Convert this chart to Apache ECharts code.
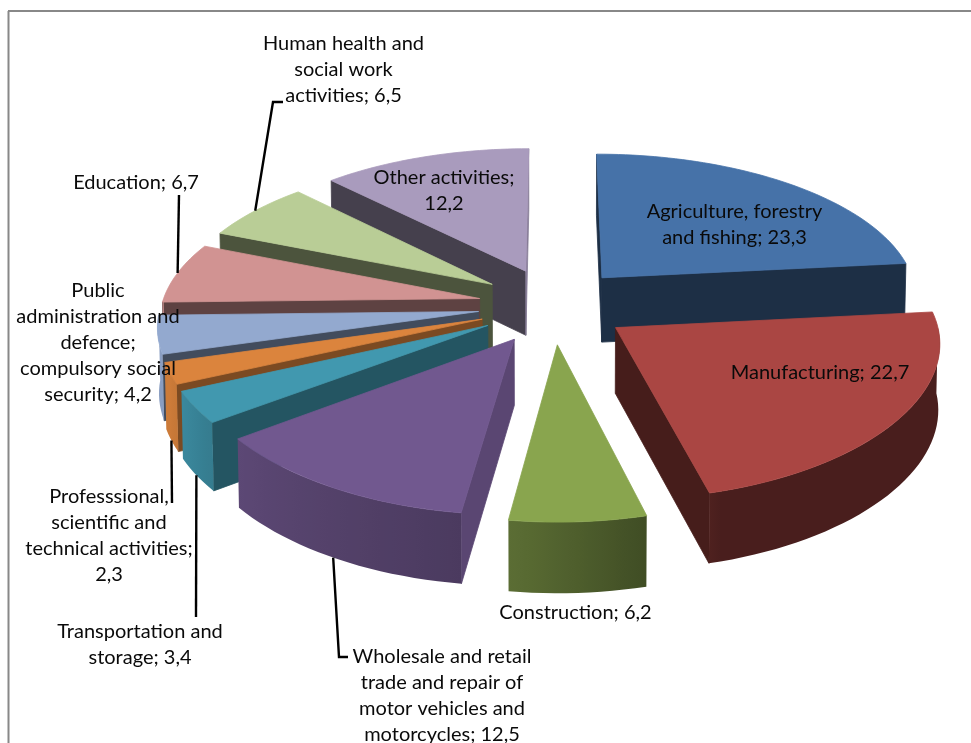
<!DOCTYPE html>
<html><head><meta charset="utf-8">
<script src="https://cdn.jsdelivr.net/npm/echarts@6/dist/echarts.min.js"></script>
<style>html,body{margin:0;padding:0;background:#fff}#c{width:971px;height:743px}</style>
</head><body><div id="c"></div>
<script>
// ---- data ----
const categories = [
  'Agriculture, forestry\nand fishing','Manufacturing','Construction',
  'Wholesale and retail\ntrade and repair of\nmotor vehicles and\nmotorcycles',
  'Transportation and\nstorage','Professsional,\nscientific and\ntechnical activities',
  'Public\nadministration and\ndefence;\ncompulsory social\nsecurity','Education',
  'Human health and\nsocial work\nactivities','Other activities'
];
const values = [23.3,22.7,6.2,12.5,3.4,2.3,4.2,6.7,6.5,12.2];
const valueSeparators = ['; ','; ','; ','; ','; ',';\n','; ','; ','; ',';\n'];
const topColors = ['#4672A8','#AA4643','#89A54E','#71588F','#4198AF','#DB843D','#93A9CF','#D19392','#B9CD96','#A99BBD'];

// ---- layout (not data) ----
const CX=553, CY=305.5, RX=318, RY=143, EXPLODE_X=0.236, EXPLODE_Y=0.266, DEPTH=65;
const labelAt = [[734.5,225],[820,373],[575.5,613],[442,696],[140,645],[109,536],[98,343],[136,183],[343.5,70],[444,191]];
// leader: rim = which rim edge it leaves from, then elbow points towards the label
const leaders = {
  3:{bottom:true, path:[[339,657],[348,657]]},
  4:{bottom:true, path:[[196,617]]},
  5:{bottom:true, path:[[172,503]]},
  7:{bottom:false,path:[[179,195]]},
  8:{bottom:false,path:[[273,102],[283,102]]}
};

const total = values.reduce((a,b)=>a+b,0);
const rad = d => d*Math.PI/180;
const slices = []; let acc=0;
values.forEach((v,i)=>{ const a0=acc/total*360; acc+=v; const a1=acc/total*360;
  slices.push({i,a0,a1,mid:(a0+a1)/2}); });

function project(X,Y,low){
  const sy=1/(1+(Y>0?0.11:0.13)*Y);
  const sx=1/(1+(Y>0?0.125:0.09)*Y);
  const bx=low?0.996:1;
  return [CX+RX*X*sx*bx, CY-RY*Y*sy+(low?DEPTH*Math.pow(sy,0.5):0)];
}
function point(sl,ang,r,low){
  const ex=EXPLODE_X*Math.sin(rad(sl.mid)), ey=EXPLODE_Y*Math.cos(rad(sl.mid));
  return project(ex+r*Math.sin(rad(ang)), ey+r*Math.cos(rad(ang)), low);
}
function shade(hex,f){
  const n=parseInt(hex.slice(1),16);
  const c=[n>>16,(n>>8)&255,n&255].map(x=>Math.round(x*f));
  return 'rgb('+c.join(',')+')';
}
function rimShade(a){
  if(a<165) return 0.43;
  if(a<187) return 0.46+(a-165)/22*0.2;
  if(a<234) return 0.66+(a-187)/47*0.16;
  if(a<250) return 0.82+(a-234)/16*0.11;
  return 0.93;
}
function poly(points,fill,stroke){
  return {type:'polygon',shape:{points},style:{fill,stroke:stroke||fill,lineWidth:0.8}};
}
function renderSlice(params,api){
  const sl=slices[api.value(1)], col=topColors[sl.i], kids=[];
  // radial walls facing the viewer
  [[sl.a0,sl.a0-90],[sl.a1,sl.a1+90]].forEach(([a,normal])=>{
    if(Math.cos(rad(normal))>0.02) return;
    const n=((normal%360)+360)%360;
    const f=(n>60&&n<120)?0.8:(a>225&&a<250?0.56:(a>=250&&a<270?0.45:0.41));
    kids.push(poly([point(sl,a,0,false),point(sl,a,1,false),point(sl,a,1,true),point(sl,a,0,true)],shade(col,f)));
  });
  // outer wall, shaded across its width
  const from=Math.max(sl.a0,90), to=Math.min(sl.a1,270);
  if(to>from){
    const n=Math.max(2,Math.ceil((to-from)/2)), up=[], dn=[], angs=[];
    for(let k=0;k<=n;k++){
      const a=from+(to-from)*k/n; angs.push(a);
      up.push(point(sl,a,1,false)); dn.push(point(sl,a,1,true));
    }
    const xs=dn.map(p=>p[0]), x0=Math.min(...xs), x1=Math.max(...xs);
    const stops=angs.map((a,k)=>({offset:Math.min(1,Math.max(0,(xs[k]-x0)/(x1-x0))),color:shade(col,rimShade(a))}))
      .sort((p,q)=>p.offset-q.offset);
    const fill={type:'linear',x:x0,y:0,x2:x1,y2:0,global:true,colorStops:stops};
    kids.push({type:'polygon',shape:{points:up.concat(dn.reverse())},style:{fill}});
  }
  // top face
  const top=[point(sl,sl.a0,0,false)];
  const m=Math.ceil((sl.a1-sl.a0)/1.5);
  for(let k=0;k<=m;k++) top.push(point(sl,sl.a0+(sl.a1-sl.a0)*k/m,1,false));
  kids.push(poly(top,col));
  return {type:'group',children:kids};
}
function renderLabel(params,api){
  const i=api.value(1), kids=[];
  const sl=slices[i], ld=leaders[i];
  if(ld){
    const pts=[point(sl,sl.mid,1,ld.bottom)].concat(ld.path);
    kids.push({type:'polyline',shape:{points:pts},style:{fill:null,stroke:'#000',lineWidth:2.4}});
  }
  kids.push({type:'text',style:{
    text:categories[i]+valueSeparators[i]+values[i].toFixed(1).replace('.',','),
    x:labelAt[i][0],y:labelAt[i][1],align:'center',verticalAlign:'middle',
    fontFamily:'Lato',fontSize:20,lineHeight:26,fill:'#0a0a0a'}});
  return {type:'group',children:kids};
}
const drawOrder = slices.slice().sort((p,q)=>Math.cos(rad(q.mid))-Math.cos(rad(p.mid)));
const chart=echarts.init(document.getElementById('c'),null,{renderer:'canvas'});
chart.setOption({
  animation:false,
  backgroundColor:'#fff',
  graphic:[
    {type:'line',shape:{x1:8.5,y1:11,x2:8.5,y2:743},style:{stroke:'#888',lineWidth:2},z:10},
    {type:'line',shape:{x1:8,y1:11,x2:971,y2:11},style:{stroke:'#888',lineWidth:2},z:10}
  ],
  series:[
    {type:'custom',name:'slices',coordinateSystem:'none',silent:true,renderItem:renderSlice,z:2,
     data:drawOrder.map(s=>({name:categories[s.i],value:[values[s.i],s.i]}))},
    {type:'custom',name:'labels',coordinateSystem:'none',silent:true,renderItem:renderLabel,z:3,
     data:slices.map(s=>({name:categories[s.i],value:[values[s.i],s.i]}))}
  ]
});
</script></body></html>
